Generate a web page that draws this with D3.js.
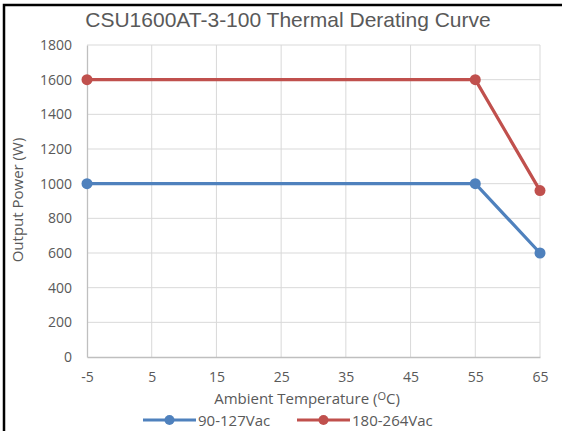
<!DOCTYPE html>
<html>
<head>
<meta charset="utf-8">
<script src="https://cdn.jsdelivr.net/npm/d3@7"></script>
<style>
  body { margin: 0; background: #fff; }
  text { font-family: "Open Sans", "Liberation Sans", Arial, sans-serif; fill: #595959; }
</style>
</head>
<body>
<div id="chart"></div>
<script>
const temps = [-5, 55, 65];
const lowLine = [1000, 1000, 600];   // 90-127Vac
const highLine = [1600, 1600, 960];  // 180-264Vac
const xTicks = [-5, 5, 15, 25, 35, 45, 55, 65];
const yTicks = [0, 200, 400, 600, 800, 1000, 1200, 1400, 1600, 1800];
const seriesNames = ["90-127Vac", "180-264Vac"];
const seriesColors = ["#4F81BD", "#C0504D"];

const width = 562, height = 431;
const svg = d3.select("#chart").append("svg")
    .attr("width", width)
    .attr("height", height);

// black frame, only top and left show
svg.append("path")
    .attr("d", "M4,431 L4,5 L562,5")
    .attr("fill", "none")
    .attr("stroke", "#000")
    .attr("stroke-width", 2.5);

let x = d3.scaleLinear().domain([-5, 65]).range([87, 540]);
let y = d3.scaleLinear().domain([0, 1800]).range([357, 45]);

// grid
svg.append("g").selectAll("line")
    .data(yTicks.slice(1))
    .enter().append("line")
    .attr("x1", x(-5)).attr("x2", x(65))
    .attr("y1", d => y(d)).attr("y2", d => y(d))
    .attr("stroke", "#D9D9D9").attr("stroke-width", 1);

svg.append("g").selectAll("line")
    .data(xTicks.slice(1))
    .enter().append("line")
    .attr("x1", d => x(d)).attr("x2", d => x(d))
    .attr("y1", y(0)).attr("y2", y(1800))
    .attr("stroke", "#D9D9D9").attr("stroke-width", 1);

// axes
let xAxis = svg.append("g")
    .attr("transform", "translate(0," + y(0) + ")")
    .call(d3.axisBottom(x).tickValues(xTicks).tickSize(0).tickPadding(15).tickFormat(d => String(d)));
let yAxis = svg.append("g")
    .attr("transform", "translate(" + x(-5) + ",0)")
    .call(d3.axisLeft(y).tickValues(yTicks).tickSize(0).tickPadding(15).tickFormat(d => String(d)));

[xAxis, yAxis].forEach(a => {
    a.select(".domain").attr("stroke", "#BFBFBF").attr("stroke-width", 1.3);
    a.selectAll("text").style("font-size", "14px").attr("fill", "#595959")
        .style("font-family", "'Open Sans', 'Liberation Sans', Arial, sans-serif");
});

// lines + markers
let line = d3.line().x((d, i) => x(temps[i])).y(d => y(d));
[lowLine, highLine].forEach((vals, k) => {
    svg.append("path")
        .datum(vals)
        .attr("d", line)
        .attr("fill", "none")
        .attr("stroke", seriesColors[k])
        .attr("stroke-width", 3.2)
        .attr("stroke-linejoin", "round");
    svg.append("g").selectAll("circle")
        .data(vals)
        .enter().append("circle")
        .attr("cx", (d, i) => x(temps[i]))
        .attr("cy", d => y(d))
        .attr("r", 5.5)
        .attr("fill", seriesColors[k]);
});

// title
svg.append("text")
    .attr("x", 288).attr("y", 27)
    .attr("text-anchor", "middle")
    .style("font-family", "'Liberation Sans', Arial, sans-serif")
    .style("font-size", "21px")
    .text("CSU1600AT-3-100 Thermal Derating Curve");

// axis titles
let xt = svg.append("text")
    .attr("x", 307).attr("y", 404)
    .attr("text-anchor", "middle")
    .style("font-size", "15px");
xt.append("tspan").text("Ambient Temperature (");
xt.append("tspan").attr("dy", -4).style("font-size", "11px").text("O");
xt.append("tspan").attr("dy", 4).text("C)");

svg.append("text")
    .attr("transform", "translate(23,200) rotate(-90)")
    .attr("text-anchor", "middle")
    .style("font-size", "15px")
    .text("Output Power (W)");

// legend
const legendX = [143, 297];
seriesNames.forEach((name, k) => {
    let g = svg.append("g").attr("transform", "translate(" + legendX[k] + ",420)");
    g.append("line").attr("x1", 0).attr("x2", 53).attr("y1", 0).attr("y2", 0)
        .attr("stroke", seriesColors[k]).attr("stroke-width", 3.2);
    g.append("circle").attr("cx", 26.5).attr("cy", 0).attr("r", 5).attr("fill", seriesColors[k]);
    g.append("text").attr("x", 55).attr("y", 5.5).style("font-size", "15px").text(name);
});
</script>
</body>
</html>
